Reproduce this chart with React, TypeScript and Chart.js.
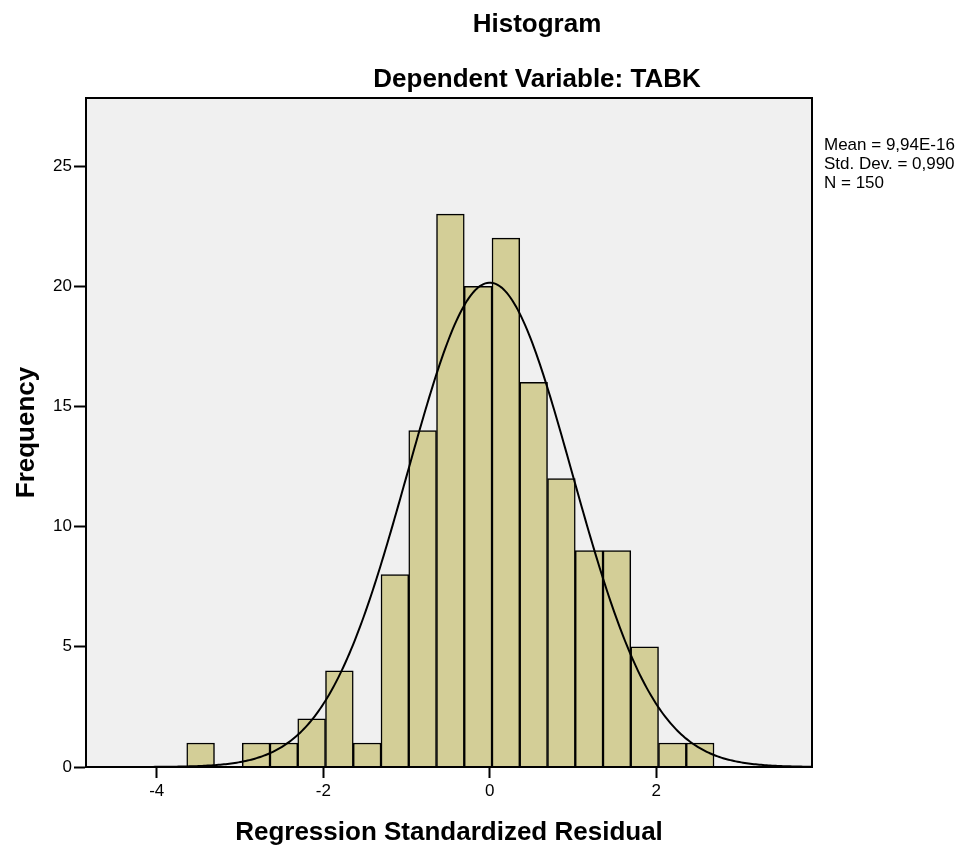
import { useEffect, useRef } from 'react';
import { Chart, registerables } from 'chart.js';

Chart.register(...registerables);

// Histogram bins (bin centres, width = 1/3) and their frequencies
const binCenters = [
  -3.4733, -3.14, -2.8067, -2.4733, -2.14, -1.8067, -1.4733, -1.14, -0.8067,
  -0.4733, -0.14, 0.1933, 0.5267, 0.86, 1.1933, 1.5267, 1.86, 2.1933, 2.5267,
];
const frequencies = [1, 0, 1, 1, 2, 4, 1, 8, 14, 23, 20, 22, 16, 12, 9, 9, 5, 1, 1];

// Summary statistics shown at the right
const statMean = 9.94e-16;
const statSd = 0.99;
const statN = 150;
const binWidth = 1 / 3;
const statLines = ['Mean = 9,94E-16', 'Std. Dev. = 0,990', 'N = 150'];

const xTicks = [-4, -2, 0, 2];
const yTicks = [0, 5, 10, 15, 20, 25];
const xRange = [-4.85, 3.87];
const yRange = [0, 27.83];

const titleLines = ['Histogram', 'Dependent Variable: TABK'];
const xTitle = 'Regression Standardized Residual';
const yTitle = 'Frequency';

const FONT = '"Liberation Sans", Arial, sans-serif';

function normalCurve() {
  const pts: { x: number; y: number }[] = [];
  const steps = 400;
  for (let i = 0; i <= steps; i++) {
    const x = xRange[0] + ((xRange[1] - xRange[0]) * i) / steps;
    const z = (x - statMean) / statSd;
    const y = (statN * binWidth * Math.exp(-0.5 * z * z)) / (statSd * Math.sqrt(2 * Math.PI));
    pts.push({ x, y });
  }
  return pts;
}

const framePlugin = {
  id: 'frameAndText',
  beforeDraw(chart: any) {
    const { ctx, chartArea: a } = chart;
    ctx.save();
    ctx.fillStyle = '#ffffff';
    ctx.fillRect(0, 0, chart.width, chart.height);
    ctx.fillStyle = '#f0f0f0';
    ctx.fillRect(a.left, a.top, a.right - a.left, a.bottom - a.top);
    ctx.restore();
  },
  afterDraw(chart: any) {
    const { ctx, chartArea: a } = chart;
    ctx.save();
    ctx.strokeStyle = '#000';
    ctx.lineWidth = 2;
    ctx.strokeRect(a.left, a.top, a.right - a.left, a.bottom - a.top);
    ctx.fillStyle = '#000';
    ctx.textAlign = 'center';
    ctx.textBaseline = 'middle';
    ctx.font = `bold 26px ${FONT}`;
    ctx.fillText(titleLines[0], 537, 25);
    ctx.fillText(titleLines[1], 537, 80);
    ctx.textAlign = 'left';
    ctx.font = `17px ${FONT}`;
    statLines.forEach((s, i) => ctx.fillText(s, 824, 145 + i * 19));
    ctx.restore();
  },
};

export default function App() {
  const ref = useRef<HTMLCanvasElement>(null);
  useEffect(() => {
    if (!ref.current) return;
    const chart = new Chart(ref.current, {
      type: 'bar',
      data: {
        datasets: [
          {
            type: 'line',
            data: normalCurve(),
            borderColor: '#000',
            borderWidth: 2,
            pointRadius: 0,
            fill: false,
            tension: 0,
            order: 0,
          } as any,
          {
            type: 'bar',
            data: binCenters.map((x, i) => ({ x, y: frequencies[i] })),
            backgroundColor: 'rgb(211,206,151)',
            borderColor: '#000',
            borderWidth: 1.5,
            barPercentage: 1,
            categoryPercentage: 1,
            order: 1,
          } as any,
        ],
      },
      options: {
        responsive: false,
        animation: false,
        layout: { padding: { left: 0, top: 98, right: 165, bottom: 0 } },
        plugins: { legend: { display: false }, tooltip: { enabled: false } },
        scales: {
          x: {
            type: 'linear',
            min: xRange[0],
            max: xRange[1],
            offset: false,
            afterBuildTicks: (s: any) => {
              s.ticks = xTicks.map((v) => ({ value: v }));
            },
            afterFit: (s: any) => {
              s.height = 81;
            },
            grid: {
              display: true,
              drawOnChartArea: false,
              drawTicks: true,
              tickLength: 11,
              tickColor: '#000',
              tickWidth: 2,
              offset: false,
            },
            border: { display: true, color: '#000', width: 2 },
            ticks: {
              color: '#000',
              font: { family: FONT, size: 17 },
              padding: 3,
              maxRotation: 0,
              callback: (v: any) => String(v),
            },
            title: {
              display: true,
              text: xTitle,
              color: '#000',
              font: { family: FONT, size: 26, weight: 'bold' },
              padding: { top: 0, bottom: 0 },
            },
          },
          y: {
            type: 'linear',
            min: yRange[0],
            max: yRange[1],
            afterBuildTicks: (s: any) => {
              s.ticks = yTicks.map((v) => ({ value: v }));
            },
            afterFit: (s: any) => {
              s.width = 86;
            },
            grid: {
              display: true,
              drawOnChartArea: false,
              drawTicks: true,
              tickLength: 12,
              tickColor: '#000',
              tickWidth: 2,
            },
            border: { display: true, color: '#000', width: 2 },
            ticks: {
              color: '#000',
              font: { family: FONT, size: 17 },
              padding: 2,
              callback: (v: any) => String(v),
            },
            title: {
              display: true,
              text: yTitle,
              color: '#000',
              font: { family: FONT, size: 26, weight: 'bold' },
              padding: { top: 11, bottom: 0 },
            },
          },
        },
      } as any,
      plugins: [framePlugin],
    });
    return () => chart.destroy();
  }, []);
  return (
    <div style={{ position: 'fixed', left: 0, top: 0, width: 977, height: 848 }}>
      <canvas ref={ref} width={977} height={848} />
    </div>
  );
}
